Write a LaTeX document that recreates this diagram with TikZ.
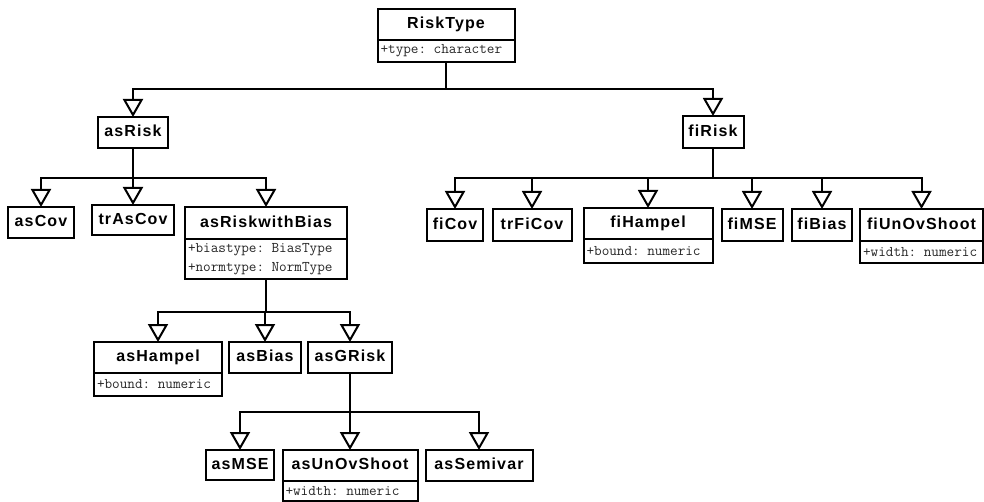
\documentclass[tikz,border=0pt]{standalone}
\usepackage{fontspec}
\newfontfamily\titlefont[LetterSpace=7]{Liberation Sans}
\usetikzlibrary{arrows.meta}

\begin{document}
\begin{tikzpicture}[x=1pt,y=-1pt,
  cls/.style={draw, line width=2pt, anchor=north, outer sep=0pt, minimum width=#1, minimum height=31pt, inner sep=0pt, text height=11.5pt, text depth=3pt, font=\titlefont\bfseries\fontsize{16}{19}\selectfont},
  attr/.style={draw, line width=2pt, anchor=north, outer sep=0pt, text width=#1, inner xsep=3pt, inner ysep=0pt, minimum height=22pt, align=left, text=black!85, font=\ttfamily\fontsize{14.8}{19.5}\selectfont},
  inh/.style={line width=2pt, -{Triangle[open, length=18pt, width=20pt]}}]
\useasboundingbox (0,0) rectangle (984,502);
\node[cls=137pt] (RiskType) at (446,9) {RiskType};
\node[attr=131pt] (RiskTypeA) at (RiskType.south) {+type: character};
\node[cls=70pt] (asRisk) at (133,117) {asRisk};
\node[cls=61pt, minimum height=32pt] (fiRisk) at (713,116) {fiRisk};
\node[cls=66pt] (asCov) at (41,207) {asCov};
\node[cls=82pt, minimum height=30pt] (trAsCov) at (133,205) {trAsCov};
\node[cls=162pt, minimum height=32pt] (asRiskwithBias) at (266,207) {asRiskwithBias};
\node[attr=156pt, minimum height=40pt] (asRiskwithBiasA) at (asRiskwithBias.south) {+biastype: BiasType\\+normtype: NormType};
\node[cls=128pt] (asHampel) at (158,342) {asHampel};
\node[attr=122pt, minimum height=23pt] (asHampelA) at (asHampel.south) {+bound: numeric};
\node[cls=72pt] (asBias) at (265,342) {asBias};
\node[cls=84pt] (asGRisk) at (350,342) {asGRisk};
\node[cls=68pt, minimum height=30pt] (asMSE) at (240,450) {asMSE};
\node[cls=135pt] (asUnOvShoot) at (350,450) {asUnOvShoot};
\node[attr=129pt, minimum height=20pt] (asUnOvShootA) at (asUnOvShoot.south) {+width: numeric};
\node[cls=107pt] (asSemivar) at (479,450) {asSemivar};
\node[cls=56pt, minimum height=32pt] (fiCov) at (455,209) {fiCov};
\node[cls=79pt, minimum height=32pt] (trFiCov) at (532,209) {trFiCov};
\node[cls=129pt] (fiHampel) at (648,208) {fiHampel};
\node[attr=123pt, minimum height=24pt] (fiHampelA) at (fiHampel.south) {+bound: numeric};
\node[cls=61pt, minimum height=32pt] (fiMSE) at (752,209) {fiMSE};
\node[cls=60pt, minimum height=32pt] (fiBias) at (822,209) {fiBias};
\node[cls=123pt, minimum height=32pt] (fiUnOvShoot) at (921.5,209) {fiUnOvShoot};
\node[attr=117pt, minimum height=22pt] (fiUnOvShootA) at (fiUnOvShoot.south) {+width: numeric};
\draw[inh] (RiskTypeA.south) -- ++(0,27) -| (asRisk.north);
\draw[inh] (RiskTypeA.south) -- ++(0,27) -| (fiRisk.north);
\draw[inh] (asRisk.south) -- ++(0,30) -| (asCov.north);
\draw[inh] (asRisk.south) -- ++(0,30) -| (trAsCov.north);
\draw[inh] (asRisk.south) -- ++(0,30) -| (asRiskwithBias.north);
\draw[inh] (asRiskwithBiasA.south) -- ++(0,33) -| (asHampel.north);
\draw[inh] (asRiskwithBiasA.south) -- ++(0,33) -| (asBias.north);
\draw[inh] (asRiskwithBiasA.south) -- ++(0,33) -| (asGRisk.north);
\draw[inh] (asGRisk.south) -- ++(0,39) -| (asMSE.north);
\draw[inh] (asGRisk.south) -- ++(0,39) -| (asUnOvShoot.north);
\draw[inh] (asGRisk.south) -- ++(0,39) -| (asSemivar.north);
\draw[inh] (fiRisk.south) -- ++(0,30) -| (fiCov.north);
\draw[inh] (fiRisk.south) -- ++(0,30) -| (trFiCov.north);
\draw[inh] (fiRisk.south) -- ++(0,30) -| (fiHampel.north);
\draw[inh] (fiRisk.south) -- ++(0,30) -| (fiMSE.north);
\draw[inh] (fiRisk.south) -- ++(0,30) -| (fiBias.north);
\draw[inh] (fiRisk.south) -- ++(0,30) -| (fiUnOvShoot.north);
\end{tikzpicture}
\end{document}
